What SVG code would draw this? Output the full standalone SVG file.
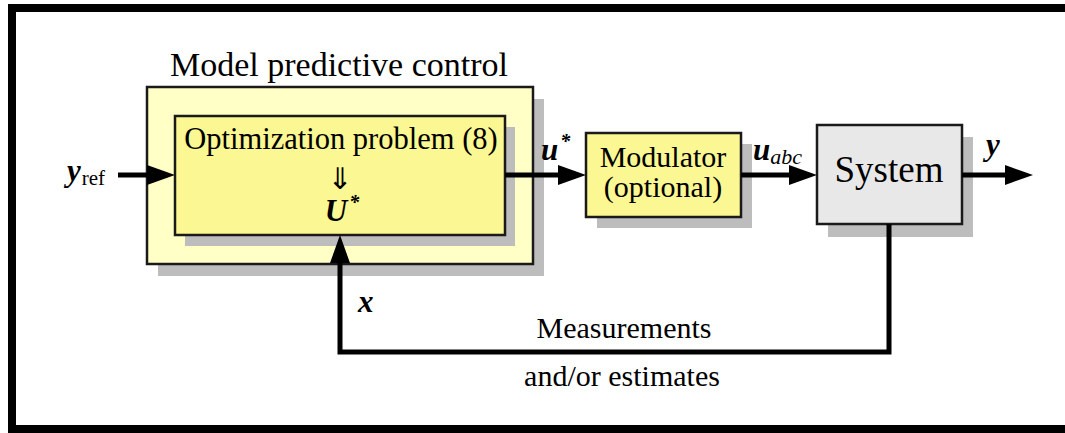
<svg xmlns="http://www.w3.org/2000/svg" width="1065" height="433" viewBox="0 0 1065 433" font-family="'Liberation Serif', 'DejaVu Serif', serif">
<defs>
<style>
text{font-family:'Liberation Serif','DejaVu Serif',serif;fill:#000}
.m{font-style:italic;font-weight:bold}
.sh{fill:#bdbdbd}
.box{stroke:#1a1a1a;stroke-width:2.5}
.c{fill:none;stroke:#000;stroke-width:5;stroke-linejoin:miter}
</style>
<marker id="ah" markerUnits="userSpaceOnUse" markerWidth="30" markerHeight="22" refX="14" refY="11" orient="auto">
<path d="M0,1 L28,11 L0,21 z" fill="#000"/>
</marker>
</defs>
<rect x="0" y="0" width="1065" height="433" fill="#fff"/>
<path d="M1065 8 H12 V429 H1065" fill="none" stroke="#000" stroke-width="8"/>

<g id="mpc">
<rect class="sh" x="158" y="99" width="386" height="177"/>
<rect class="box" x="147" y="87" width="386" height="177" fill="#ffffc6"/>
<text x="339" y="76" font-size="34" text-anchor="middle">Model predictive control</text>
</g>

<g id="optimization">
<rect class="sh" x="185" y="127" width="330" height="119"/>
<rect class="box" x="175" y="116" width="330" height="119" fill="#fbf792"/>
<text x="341" y="149" font-size="30.5" text-anchor="middle">Optimization problem (8)</text>
<text x="340" y="189" font-size="30" text-anchor="middle" style="font-family:'DejaVu Sans',sans-serif">⇓</text>
<text class="m" x="342" y="221" font-size="31" text-anchor="middle">U<tspan font-size="20" dx="2" dy="-12">*</tspan></text>
</g>

<g id="modulator">
<rect class="sh" x="597" y="144" width="155" height="84"/>
<rect class="box" x="586" y="133" width="155" height="84" fill="#fbf792"/>
<text x="663" y="167" font-size="30" text-anchor="middle">Modulator</text>
<text x="663" y="197" font-size="30" text-anchor="middle">(optional)</text>
</g>

<g id="system">
<rect class="sh" x="828" y="137" width="145" height="100"/>
<rect class="box" x="817" y="125" width="145" height="99" fill="#e8e8e8"/>
<text x="889" y="182" font-size="37" text-anchor="middle">System</text>
</g>

<g id="connectors">
<line class="c" x1="118" y1="175" x2="161" y2="175" marker-end="url(#ah)"/>
<line class="c" x1="505" y1="175" x2="572" y2="175" marker-end="url(#ah)"/>
<line class="c" x1="741" y1="175" x2="803" y2="175" marker-end="url(#ah)"/>
<line class="c" x1="962" y1="175" x2="1019" y2="175" marker-end="url(#ah)"/>
<path class="c" d="M889 224 V352 H340 V249" marker-end="url(#ah)"/>
</g>

<g id="labels">
<text class="m" x="67" y="181" font-size="31">y<tspan font-style="normal" font-weight="normal" font-size="21" dx="1" dy="4">ref</tspan></text>
<text class="m" x="541" y="160" font-size="31">u<tspan font-size="20" dx="2" dy="-12">*</tspan></text>
<text class="m" x="753" y="160" font-size="31">u<tspan font-weight="normal" font-size="22" dy="4">abc</tspan></text>
<text class="m" x="986" y="155" font-size="31">y</text>
<text class="m" x="358" y="312" font-size="31">x</text>
<text x="624" y="338" font-size="30" text-anchor="middle">Measurements</text>
<text x="622" y="386" font-size="30" text-anchor="middle">and/or estimates</text>
</g>
</svg>
